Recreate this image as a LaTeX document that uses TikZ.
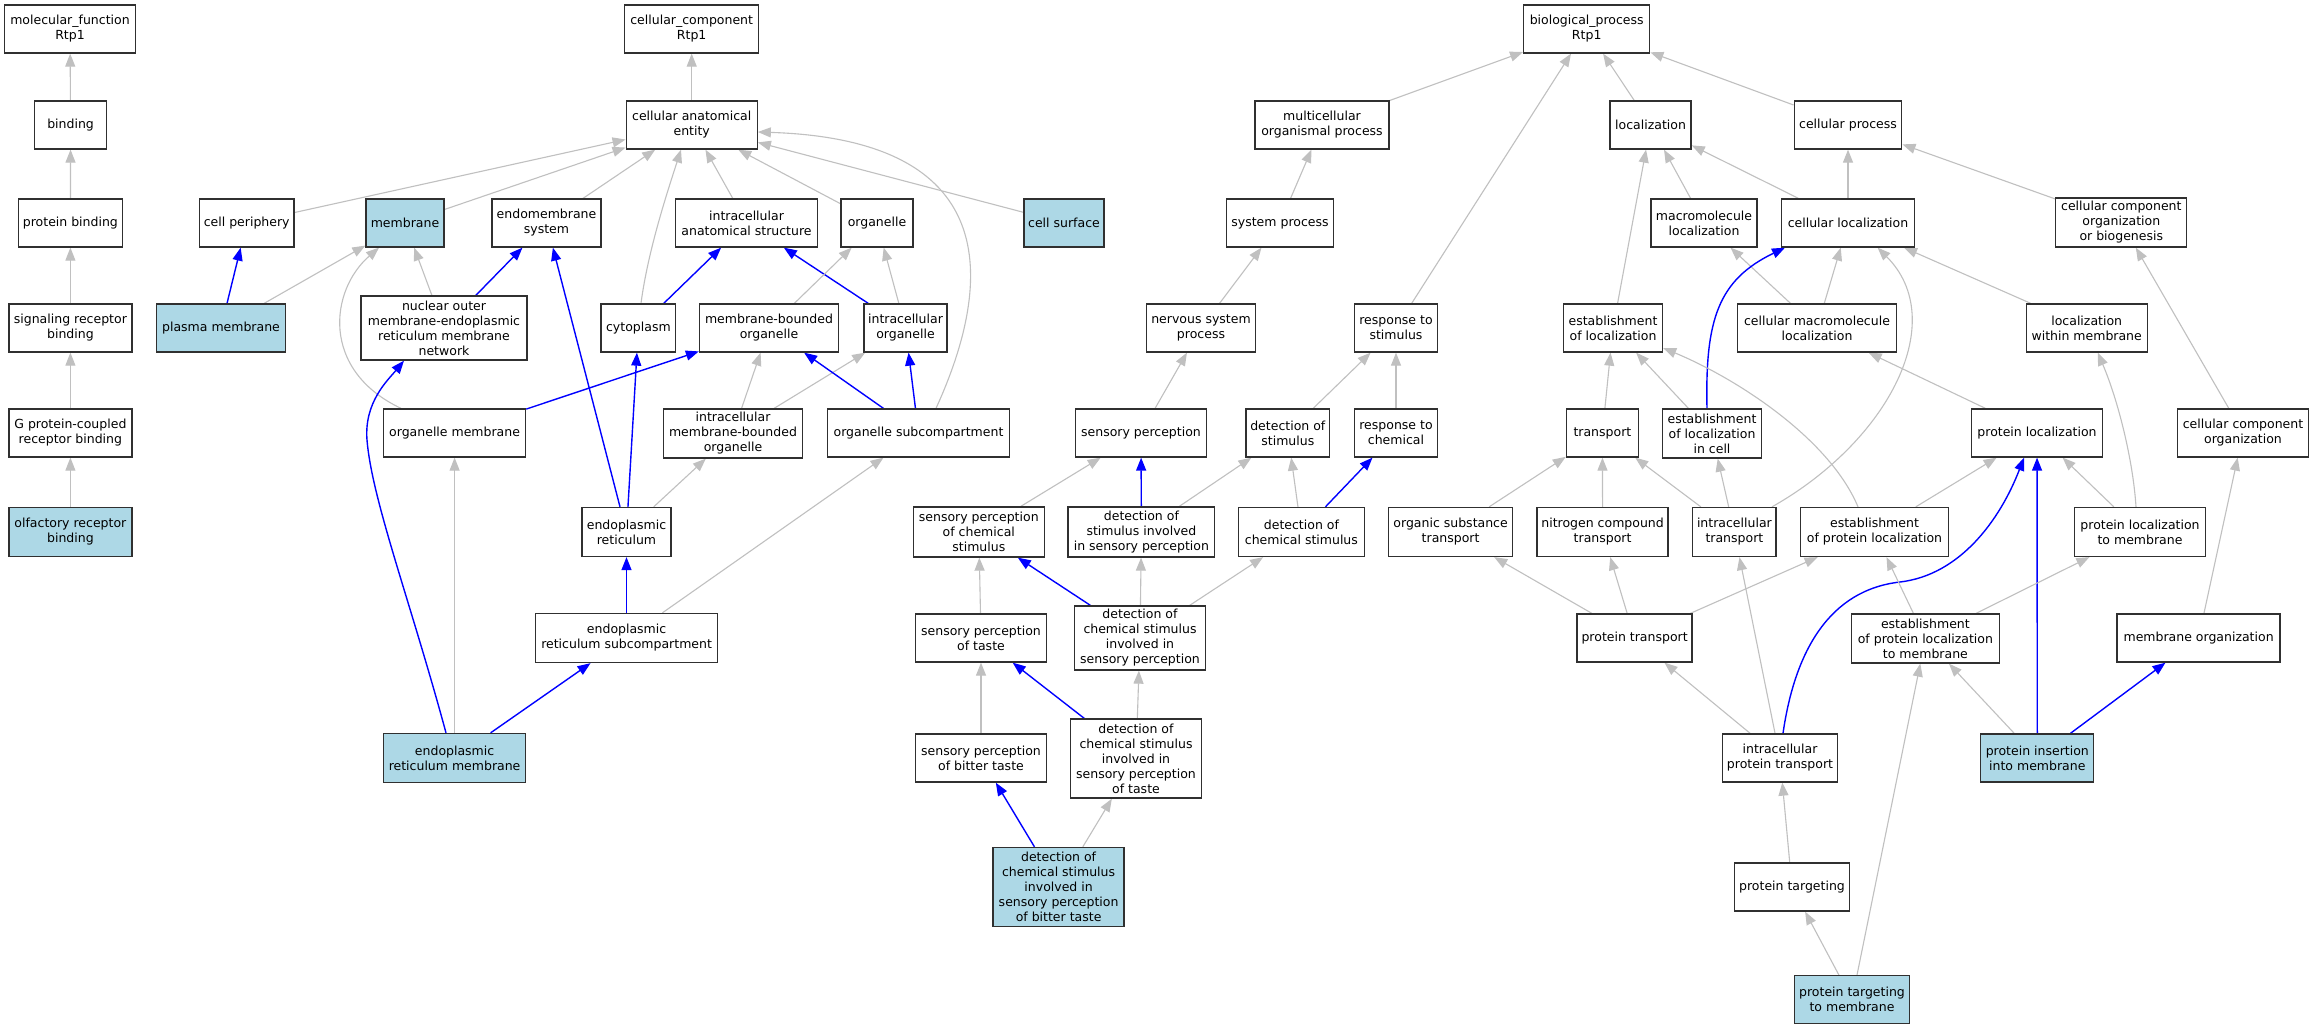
\documentclass[tikz,border=0pt]{standalone}
\usepackage{fontspec}
\setmainfont{DejaVu Sans}
\usetikzlibrary{arrows.meta}
\definecolor{edgegray}{HTML}{C0C0C0}
\definecolor{lblue}{HTML}{ADD8E6}
\definecolor{bordergray}{HTML}{303030}
\pgfdeclarelayer{bg}
\pgfdeclarelayer{paper}
\pgfsetlayers{paper,bg,main}
\begin{document}
\begin{tikzpicture}[x=1pt,y=-1pt,
  box/.style={draw=bordergray, line width=1.3pt, fill=white, inner sep=0pt, align=center, font=\fontsize{12.5pt}{15pt}\selectfont},
  hl/.style={box, fill=lblue},
  sz/.style 2 args={minimum width=#1pt, minimum height=#2pt},
  ge/.style={draw=edgegray, line width=1.1pt, -{Triangle[length=13pt,width=10pt]}},
  be/.style={draw=blue, line width=1.4pt, -{Triangle[length=13pt,width=10pt]}}]
\begin{pgfonlayer}{paper}
\fill[white] (0,0) rectangle (2313,1027);
\end{pgfonlayer}
\useasboundingbox (0,0) rectangle (2313,1027);

% ---------- molecular function ----------
\node[box, sz={131}{48}] (mf) at (70,29) {molecular\_function\\Rtp1};
\node[box, sz={72}{48}] (bind) at (70.6,125) {binding};
\node[box, sz={104}{48}] (pbind) at (70.4,223) {protein binding};
\node[box, sz={123}{48}] (srb) at (70.4,328) {signaling receptor\\binding};
\node[box, sz={123}{48}] (gpcr) at (70.4,433) {G protein-coupled\\receptor binding};
\node[hl, sz={123}{49}] (orb) at (70.4,532) {olfactory receptor\\binding};

% ---------- cellular component ----------
\node[box, sz={134}{48}] (cc) at (691.7,29) {cellular\_component\\Rtp1};
\node[box, sz={131}{48}] (cae) at (691.7,125) {cellular anatomical\\entity};
\node[box, sz={94.5}{48}] (cper) at (246.7,223) {cell periphery};
\node[hl, sz={78}{48}] (memb) at (405,223) {membrane};
\node[box, sz={109}{48}] (endo) at (546.5,223) {endomembrane\\system};
\node[box, sz={141.6}{48}] (ias) at (746.5,223) {intracellular\\anatomical structure};
\node[box, sz={72}{48}] (org) at (877,223) {organelle};
\node[hl, sz={80}{48}] (csurf) at (1064,223) {cell surface};
\node[hl, sz={128.6}{48}] (pm) at (221,328) {plasma membrane};
\node[box, sz={166}{64}] (nuc) at (444,328) {nuclear outer\\membrane-endoplasmic\\reticulum membrane\\network};
\node[box, sz={74.6}{48}] (cyto) at (638.4,328) {cytoplasm};
\node[box, sz={139}{48}] (mbo) at (769,328) {membrane-bounded\\organelle};
\node[box, sz={83}{48}] (io) at (905.5,328) {intracellular\\organelle};
\node[box, sz={142}{48}] (orgm) at (454.6,433) {organelle membrane};
\node[box, sz={138.5}{49}] (imbo) at (733,433.5) {intracellular\\membrane-bounded\\organelle};
\node[box, sz={182}{48}] (osub) at (918.5,433) {organelle subcompartment};
\node[box, sz={89}{49}] (er) at (626.5,532) {endoplasmic\\reticulum};
\node[box, sz={182}{49}] (ersub) at (626.6,638) {endoplasmic\\reticulum subcompartment};
\node[hl, sz={142}{49}] (erm) at (454.6,758) {endoplasmic\\reticulum membrane};

% ---------- sensory branch ----------
\node[box, sz={131}{50}] (spcs) at (978.8,532) {sensory perception\\of chemical\\stimulus};
\node[box, sz={146.7}{50}] (dsisp) at (1141.4,532) {detection of\\stimulus involved\\in sensory perception};
\node[box, sz={131}{48}] (spt) at (981,638) {sensory perception\\of taste};
\node[box, sz={131}{64}] (dcsisp) at (1140,638) {detection of\\chemical stimulus\\involved in\\sensory perception};
\node[box, sz={131}{48}] (spbt) at (981,758) {sensory perception\\of bitter taste};
\node[box, sz={131}{79}] (dctaste) at (1136,758.6) {detection of\\chemical stimulus\\involved in\\sensory perception\\of taste};
\node[hl, sz={131}{79}] (bitter) at (1058.6,887) {detection of\\chemical stimulus\\involved in\\sensory perception\\of bitter taste};

% ---------- biological process ----------
\node[box, sz={126}{48}] (bp) at (1586.7,29) {biological\_process\\Rtp1};
\node[box, sz={134}{48}] (mop) at (1322,125) {multicellular\\organismal process};
\node[box, sz={81}{48}] (loc) at (1650.6,125) {localization};
\node[box, sz={107.6}{48}] (cproc) at (1848,125) {cellular process};
\node[box, sz={107}{48}] (sysp) at (1280,223) {system process};
\node[box, sz={106}{48}] (mloc) at (1704,223) {macromolecule\\localization};
\node[box, sz={133.6}{48}] (cloc) at (1848,223) {cellular localization};
\node[box, sz={131}{49}] (ccob) at (2121.3,222.5) {cellular component\\organization\\or biogenesis};
\node[box, sz={109}{48}] (nsp) at (1201,328) {nervous system\\process};
\node[box, sz={83}{48}] (rts) at (1396,328) {response to\\stimulus};
\node[box, sz={99}{48}] (eloc) at (1613,328) {establishment\\of localization};
\node[box, sz={158.4}{48}] (cml) at (1817,328) {cellular macromolecule\\localization};
\node[box, sz={121}{48}] (lwm) at (2086.7,328) {localization\\within membrane};
\node[box, sz={130.7}{48}] (sp) at (1141,433) {sensory perception};
\node[box, sz={83.4}{48}] (dos) at (1287.8,433) {detection of\\stimulus};
\node[box, sz={83}{48}] (rtc) at (1396,433) {response to\\chemical};
\node[box, sz={72}{48}] (trans) at (1602.4,433) {transport};
\node[box, sz={98.7}{49}] (elc) at (1712,433.5) {establishment\\of localization\\in cell};
\node[box, sz={131}{48}] (ploc) at (2037,433) {protein localization};
\node[box, sz={131}{48}] (cco) at (2243,433) {cellular component\\organization};
\node[box, sz={126}{49}] (dcs) at (1301.4,532) {detection of\\chemical stimulus};
\node[box, sz={123.6}{49}] (ost) at (1450.6,532) {organic substance\\transport};
\node[box, sz={131}{49}] (nct) at (1602.6,532) {nitrogen compound\\transport};
\node[box, sz={83.4}{49}] (itr) at (1734.4,532) {intracellular\\transport};
\node[box, sz={147.7}{49}] (epl) at (1874.5,532) {establishment\\of protein localization};
\node[box, sz={130.5}{49}] (plm) at (2140,532) {protein localization\\to membrane};
\node[box, sz={115}{48}] (ptr) at (1634.6,638) {protein transport};
\node[box, sz={147.7}{49}] (eplm) at (1925.4,638.5) {establishment\\of protein localization\\to membrane};
\node[box, sz={163}{48}] (morg) at (2198.6,638) {membrane organization};
\node[box, sz={115}{48}] (ipt) at (1780,758) {intracellular\\protein transport};
\node[hl, sz={113}{48}] (pim) at (2037.3,758) {protein insertion\\into membrane};
\node[box, sz={114.4}{48}] (ptg) at (1792,887) {protein targeting};
\node[hl, sz={115}{48}] (ptm) at (1852,999.6) {protein targeting\\to membrane};

\begin{pgfonlayer}{bg}
% molecular function
\draw[ge] (bind) -- (mf);
\draw[ge] (pbind) -- (bind);
\draw[ge] (srb) -- (pbind);
\draw[ge] (gpcr) -- (srb);
\draw[ge] (orb) -- (gpcr);
% cellular component
\draw[ge] (cae) -- (cc);
\draw[ge] (cper) -- (cae);
\draw[ge] (memb) -- (cae);
\draw[ge] (endo) -- (cae);
\draw[ge] ([xshift=2.6pt]cyto.north) .. controls (648,250) and (668,190) .. ([xshift=-10.7pt]cae.south);
\draw[ge] (ias) -- (cae);
\draw[ge] (org) -- (cae);
\draw[ge] ([xshift=17.5pt]osub.north) .. controls (990,290) and (1010,140) .. ([yshift=-7pt]cae.east);
\draw[ge] (csurf) -- (cae);
\draw[be] (pm) -- (cper);
\draw[ge] (pm) -- (memb);
\draw[ge] (nuc) -- (memb);
\draw[be] (nuc) -- (endo);
\draw[ge] ([xshift=-53.6pt]orgm.north) .. controls (320,370) and (330,290) .. ([xshift=-26pt]memb.south);
\draw[be] (orgm) -- (mbo);
\draw[be] ([xshift=-8.6pt]erm.north) .. controls (410,600) and (372,500) .. (367,440) .. controls (364,402) and (388,380) .. ([xshift=-40pt]nuc.south);
\draw[ge] (erm) -- (orgm);
\draw[be] (erm) -- (ersub);
\draw[be] (er) -- (endo);
\draw[be] (er) -- (cyto);
\draw[ge] (er) -- (imbo);
\draw[be] (cyto) -- (ias);
\draw[be] (io) -- (ias);
\draw[ge] (mbo) -- (org);
\draw[ge] (io) -- (org);
\draw[ge] (imbo) -- (mbo);
\draw[ge] (imbo) -- (io);
\draw[be] (osub) -- (mbo);
\draw[be] (osub) -- (io);
\draw[be] (ersub.north -| er.south) -- (er.south);
\draw[ge] (ersub) -- (osub);
% biological process
\draw[ge] (mop) -- (bp);
\draw[ge] (rts) -- (bp);
\draw[ge] (loc) -- (bp);
\draw[ge] (cproc) -- (bp);
\draw[ge] (sysp) -- (mop);
\draw[ge] (nsp) -- (sysp);
\draw[ge] (sp) -- (nsp);
\draw[ge] (spcs) -- (sp);
\draw[be] (dsisp) -- (sp);
\draw[ge] (dsisp) -- (dos);
\draw[ge] (dos) -- (rts);
\draw[ge] (rtc) -- (rts);
\draw[ge] (dcs) -- (dos);
\draw[be] (dcs) -- (rtc);
\draw[be] (dcsisp) -- (spcs);
\draw[ge] (dcsisp) -- (dsisp);
\draw[ge] (dcsisp) -- (dcs);
\draw[ge] (spt) -- (spcs);
\draw[be] (dctaste) -- (spt);
\draw[ge] (dctaste) -- (dcsisp);
\draw[ge] (spbt) -- (spt);
\draw[be] (bitter) -- (spbt);
\draw[ge] (bitter) -- (dctaste);
\draw[ge] (mloc) -- (loc);
\draw[ge] (cloc) -- (loc);
\draw[ge] (cloc) -- (cproc);
\draw[ge] (ccob) -- (cproc);
\draw[ge] (eloc) -- (loc);
\draw[ge] (cml) -- (mloc);
\draw[ge] (cml) -- (cloc);
\draw[ge] (lwm) -- (cloc);
\draw[be] ([xshift=-5pt]elc.north) .. controls (1705,320) and (1718,280) .. ([xshift=-63pt]cloc.south);
\draw[ge] (elc) -- (eloc);
\draw[ge] (trans) -- (eloc);
\draw[ge] ([xshift=-16.5pt]epl.north) .. controls (1830,440) and (1740,380) .. ([yshift=-20pt]eloc.east);
\draw[ge] ([xshift=37.6pt]itr.north) .. controls (1890,440) and (1950,320) .. ([xshift=29.6pt]cloc.south);
\draw[ge] (itr) -- (trans);
\draw[ge] (itr) -- (elc);
\draw[ge] (ost) -- (trans);
\draw[ge] (nct) -- (trans);
\draw[ge] (ptr) -- (ost);
\draw[ge] (ptr) -- (nct);
\draw[ge] (ptr) -- (epl);
\draw[ge] (ploc) -- (cml);
\draw[ge] ([xshift=-4pt]plm.north) .. controls (2133,460) and (2118,400) .. ([xshift=11pt]lwm.south);
\draw[ge] (plm) -- (ploc);
\draw[ge] (epl) -- (ploc);
\draw[be] ([xshift=3pt]ipt.north) .. controls (1795,650) and (1830,590) .. (1900,582) .. controls (1960,575) and (2000,520) .. ([xshift=-13pt]ploc.south);
\draw[be] (pim) -- (ploc);
\draw[ge] (pim) -- (eplm);
\draw[be] (pim) -- (morg);
\draw[ge] (eplm) -- (epl);
\draw[ge] (eplm) -- (plm);
\draw[ge] (morg) -- (cco);
\draw[ge] (cco) -- (ccob);
\draw[ge] (ipt) -- (itr);
\draw[ge] (ipt) -- (ptr);
\draw[ge] (ptg) -- (ipt);
\draw[ge] (ptm) -- (ptg);
\draw[ge] (ptm) -- (eplm);
\end{pgfonlayer}
\end{tikzpicture}
\end{document}
